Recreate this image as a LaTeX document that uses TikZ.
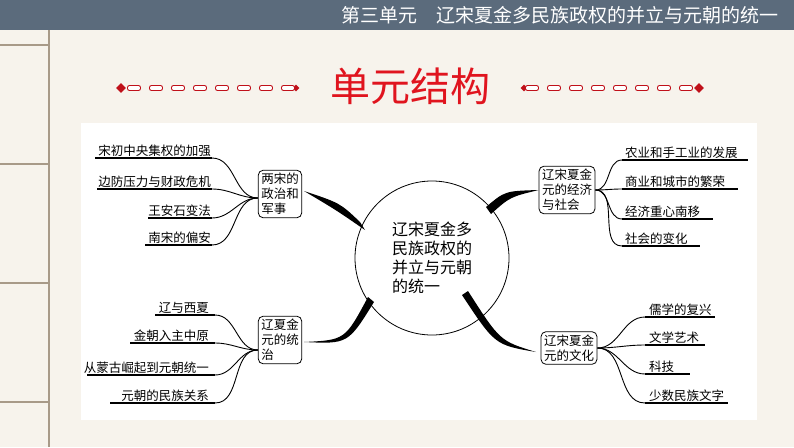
\documentclass[tikz,border=0pt]{standalone}
\usepackage{fontspec}
\setmainfont{Noto Sans CJK SC}
\usetikzlibrary{shapes.geometric}
\definecolor{bg}{HTML}{F7F3EC}
\definecolor{hdr}{HTML}{5B6B7C}
\definecolor{tan}{HTML}{A89A88}
\definecolor{tred}{HTML}{E0141E}
\definecolor{dred}{HTML}{C0101A}
\tikzset{
  box/.style={draw,rounded corners=5pt,line width=0.8pt,align=left,font=\fontsize{12.5}{15}\selectfont,inner sep=3pt},
  lab/.style={font=\fontsize{12.5}{15}\selectfont,inner sep=1pt,anchor=south},
  ul/.style={line width=1.2pt},
  br/.style={line width=0.9pt},
  dia/.style={diamond,fill=dred,inner sep=0pt,minimum width=10pt,minimum height=10pt},
  dsh/.style={draw=dred,fill=white,line width=0.9pt,rounded corners=2pt,minimum width=13pt,minimum height=5pt,inner sep=0pt}
}
\begin{document}
\begin{tikzpicture}[x=1pt,y=-1pt]
\useasboundingbox (0,0) rectangle (794,447);
\fill[bg] (0,0) rectangle (794,447);
\fill[hdr] (0,0) rectangle (794,30);
\draw[tan,line width=1.2pt] (49,30) -- (49,447);
\foreach \yy in {45,164,283,402} \draw[tan,line width=1.2pt] (0,\yy) -- (49,\yy);
\node[text=white,font=\fontsize{19}{22}\selectfont,anchor=east] (hd) at (782,15) {第三单元\quad 辽宋夏金多民族政权的并立与元朝的统一};
\fill[white] (81,123) rectangle (757,420);
% title
\node[text=tred,font=\fontsize{40}{44}\selectfont] (tt) at (410,86) {单元结构};
\foreach \xs/\sc in {0/1,820/-1}{
  \begin{scope}[shift={(\xs,0)},xscale=\sc]
  \node[dia] (da) at (121,88) {};
  \node[dia,minimum width=7pt,minimum height=7pt] (db) at (296,88) {};
  \foreach \k in {0,...,7} \node[dsh] at ({134+\k*22},88) {};
  \end{scope}
}
% center
\node[draw,circle,line width=0.8pt,minimum size=154pt,align=left,font=\fontsize{16}{19}\selectfont,inner sep=0pt] (c) at (432,258) {辽宋夏金多\\民族政权的\\并立与元朝\\的统一};
% boxes
\node[box] (b1) at (280,194) {两宋的\\政治和\\军事};
\node[box] (b2) at (567,190) {辽宋夏金\\元的经济\\与社会};
\node[box] (b3) at (280,340) {辽夏金\\元的统\\治};
\node[box] (b4) at (569,348) {辽宋夏金\\元的文化};
% tapered connectors
\coordinate (t1) at (304,191);
\fill (t1) .. controls (340,203) .. (360,222) -- (365,230) .. controls (336,210) .. (t1);
\coordinate (t2) at (b2.west);
\fill (t2) .. controls (505,191) .. (486,207) -- (491,214) .. controls (510,197) .. (t2);
\coordinate (t3) at (304,342);
\fill (t3) .. controls (345,340) .. (368,297) -- (374,302) .. controls (348,344) .. (t3);
\coordinate (t4) at (536,352);
\fill (t4) .. controls (495,345) .. (462,295) -- (468,291) .. controls (500,341) .. (t4);
% left top
\coordinate (p1) at ([yshift=-4pt]b1.west);
\foreach \t/\xa/\yy in {宋初中央集权的加强/95/158,边防压力与财政危机/97/189,王安石变法/148/218,南宋的偏安/145/245}{
  \node[lab,anchor=south east] at (212,\yy) {\t};
  \draw[ul] (\xa,\yy) -- (212,\yy);
  \draw[br] (212,\yy) to[out=0,in=180] (p1);
}
% right top
\coordinate (p2) at (b2.east);
\foreach \t/\xb/\yy in {农业和手工业的发展/748/160,商业和城市的繁荣/738/189,经济重心南移/713/219,社会的变化/700/246}{
  \node[lab,anchor=south west] at (624,\yy) {\t};
  \draw[ul] (622,\yy) -- (\xb,\yy);
  \draw[br] (622,\yy) to[out=180,in=0] (p2);
}
% left bottom
\coordinate (p3) at ([yshift=-10pt]b3.west);
\foreach \t/\xa/\yy in {辽与西夏/155/315,金朝入主中原/130/343,从蒙古崛起到元朝统一/87/375,元朝的民族关系/110/403}{
  \node[lab,anchor=south east] at (210,\yy) {\t};
  \draw[ul] (\xa,\yy) -- (215,\yy);
  \draw[br] (215,\yy) to[out=0,in=180] (p3);
}
% right bottom
\coordinate (p4) at (b4.east);
\foreach \t/\xb/\yy in {儒学的复兴/715/317,文学艺术/705/345,科技/690/374,少数民族文字/728/403}{
  \node[lab,anchor=south west] at (648,\yy) {\t};
  \draw[ul] (645,\yy) -- (\xb,\yy);
  \draw[br] (645,\yy) to[out=180,in=0] (p4);
}
\end{tikzpicture}
\end{document}
